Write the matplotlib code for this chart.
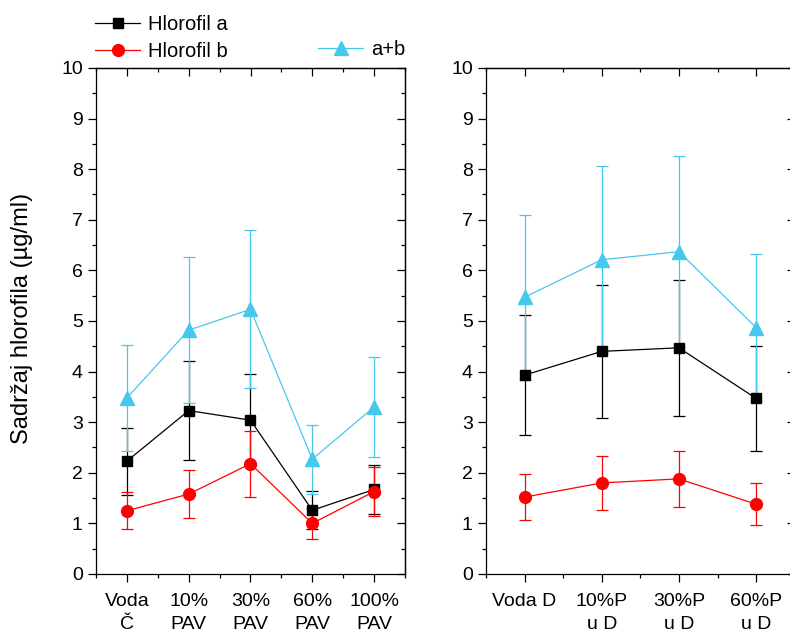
import matplotlib
matplotlib.use("Agg")
import matplotlib.pyplot as plt
from matplotlib.ticker import MultipleLocator, FixedLocator

plt.rcParams['font.family'] = ['Liberation Sans', 'DejaVu Sans']

# ---- data ----
cats_left = ["Voda\nČ", "10%\nPAV", "30%\nPAV", "60%\nPAV", "100%\nPAV"]
a_left = [2.23, 3.23, 3.04, 1.26, 1.67]
a_left_err = [0.66, 0.97, 0.91, 0.38, 0.49]
b_left = [1.25, 1.58, 2.18, 1.00, 1.63]
b_left_err = [0.37, 0.47, 0.65, 0.31, 0.49]
ab_left = [3.48, 4.82, 5.23, 2.27, 3.30]
ab_left_err = [1.04, 1.44, 1.56, 0.68, 0.99]

cats_right = ["Voda D", "10%P\nu D", "30%P\nu D", "60%P\nu D"]
a_right = [3.93, 4.40, 4.47, 3.47]
a_right_err = [1.18, 1.32, 1.34, 1.04]
b_right = [1.52, 1.80, 1.88, 1.38]
b_right_err = [0.45, 0.54, 0.56, 0.41]
ab_right = [5.47, 6.21, 6.37, 4.87]
ab_right_err = [1.63, 1.85, 1.89, 1.45]

ylabel = "Sadržaj hlorofila (µg/ml)"
labels = ["Hlorofil a", "Hlorofil b", "a+b"]

C_A = "black"
C_B = "#FF0000"
C_AB = "#45C8EC"

W, H = 790, 632
fig = plt.figure(figsize=(W / 100, H / 100), dpi=100)

ax1 = fig.add_axes([96 / W, (H - 574) / H, 309 / W, 506 / H])
ax2 = fig.add_axes([486 / W, (H - 574) / H, 308.7 / W, 506 / H])

FS = 14
MAJ, MIN = 5.5, 3.2


def draw(ax, cats, a, ae, b, be, ab, abe):
    x = list(range(len(cats)))
    kw = dict(lw=0.9, elinewidth=0.9, capsize=4.5, capthick=0.9)
    ha = ax.errorbar(x, a, yerr=ae, color=C_A, marker='s', ms=7.5, **kw)
    hb = ax.errorbar(x, b, yerr=be, color=C_B, marker='o', ms=8.5, **kw)
    hab = ax.errorbar(x, ab, yerr=abe, color=C_AB, marker='^', ms=10, **kw)
    ax.set_xlim(-0.5, len(cats) - 0.5)
    ax.set_ylim(0, 10)
    ax.set_xticks(x)
    ax.set_xticklabels(cats, fontsize=FS, linespacing=1.42)
    ax.xaxis.set_minor_locator(FixedLocator([i + 0.5 for i in range(-1, len(cats))]))
    ax.yaxis.set_major_locator(MultipleLocator(1))
    ax.yaxis.set_minor_locator(MultipleLocator(0.5))
    ax.tick_params(axis='y', which='both', direction='out', labelsize=FS,
                   left=True, right=False, width=0.9, pad=4)
    ax.tick_params(axis='x', which='both', direction='out', labelsize=FS,
                   bottom=True, top=False, width=0.9, pad=8.5)
    ax.tick_params(which='major', length=MAJ)
    ax.tick_params(which='minor', length=MIN)
    for s in ax.spines.values():
        s.set_linewidth(0.9)
    # mirrored inward ticks on top and right
    sy = ax.secondary_yaxis('right')
    sy.yaxis.set_major_locator(MultipleLocator(1))
    sy.yaxis.set_minor_locator(MultipleLocator(0.5))
    sy.tick_params(axis='y', which='both', direction='in', labelright=False, width=0.9)
    sy.tick_params(which='major', length=MAJ)
    sy.tick_params(which='minor', length=MIN)
    sy.spines['right'].set_linewidth(0.9)
    sx = ax.secondary_xaxis('top')
    sx.xaxis.set_major_locator(FixedLocator(x))
    sx.xaxis.set_minor_locator(FixedLocator([i + 0.5 for i in range(-1, len(cats))]))
    sx.tick_params(axis='x', which='both', direction='in', labeltop=False, width=0.9)
    sx.tick_params(which='major', length=MAJ)
    sx.tick_params(which='minor', length=MIN)
    sx.spines['top'].set_linewidth(0.9)
    return ha, hb, hab


ha, hb, hab = draw(ax1, cats_left, a_left, a_left_err, b_left, b_left_err, ab_left, ab_left_err)
draw(ax2, cats_right, a_right, a_right_err, b_right, b_right_err, ab_right, ab_right_err)

fig.text(22 / W, 1 - 318 / H, ylabel, rotation=90, ha='center', va='center', fontsize=17)

leg1 = fig.legend([ha[0], hb[0]], labels[:2], loc='upper left',
                  bbox_to_anchor=(95 / W, 1 - 15 / H), frameon=False, fontsize=14.5,
                  borderpad=0, borderaxespad=0, handlelength=2.25, handletextpad=0.4,
                  labelspacing=0.4)
leg2 = fig.legend([hab[0]], labels[2:], loc='upper left',
                  bbox_to_anchor=(318 / W, 1 - 40 / H), frameon=False, fontsize=14.5,
                  borderpad=0, borderaxespad=0, handlelength=2.25, handletextpad=0.4)

fig.savefig("out.png", dpi=100)
